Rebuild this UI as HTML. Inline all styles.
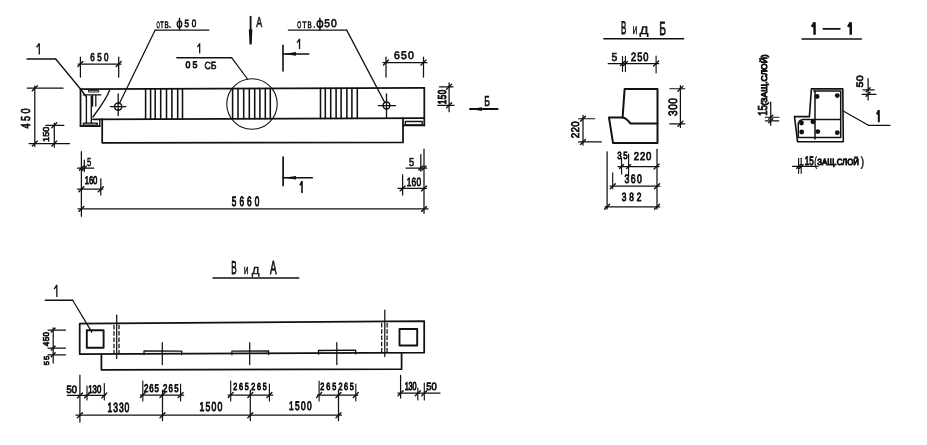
<!DOCTYPE html>
<html><head><meta charset="utf-8"><style>
html,body{margin:0;padding:0;background:#fff;width:927px;height:445px;overflow:hidden}
svg{display:block}
text{text-rendering:geometricPrecision;font-family:"Liberation Sans",sans-serif;fill:#111;stroke:#111;stroke-linejoin:miter}
</style></head><body>
<svg width="927" height="445" viewBox="0 0 927 445" stroke="#111" stroke-linecap="round" stroke-linejoin="round">
<rect x="0" y="0" width="927" height="445" fill="#fff" stroke="none"/>
<g opacity="0.999">
<line x1="80.5" y1="89.09826086956521" x2="424.3" y2="87.90243478260871" stroke-width="1.75"/>
<line x1="424.3" y1="87.90243478260871" x2="424.3" y2="125.4" stroke-width="1.75"/>
<line x1="403" y1="125.4" x2="424.3" y2="125.4" stroke-width="1.75"/>
<rect x="405.3" y="121.5" width="16.899999999999977" height="3.4000000000000057" stroke-width="1.35" fill="none"/>
<line x1="93" y1="119.25478260869565" x2="424.3" y2="118.1024347826087" stroke-width="1.75"/>
<polyline points="102.2,119.22278260869565 102.2,142.8 403,142.4 403,118.17652173913044" stroke-width="1.75" fill="none"/>
<line x1="80.5" y1="89.09826086956521" x2="80.5" y2="126" stroke-width="1.75"/>
<line x1="80.5" y1="126" x2="99.8" y2="126" stroke-width="1.75"/>
<line x1="99.8" y1="119.5" x2="99.8" y2="126" stroke-width="1.35"/>
<rect x="83.4" y="123.1" width="13.899999999999991" height="2.0" stroke-width="1.35" fill="none"/>
<line x1="86.4" y1="96" x2="86.4" y2="123" stroke-width="1.35"/>
<line x1="91.3" y1="96" x2="91.3" y2="123" stroke-width="1.35"/>
<line x1="92.6" y1="95" x2="92.6" y2="106" stroke-width="1.25"/>
<line x1="95.8" y1="95" x2="95.8" y2="106" stroke-width="1.25"/>
<line x1="83.4" y1="94.9" x2="100.8" y2="94.9" stroke-width="1.35"/>
<rect x="88.9" y="90.4" width="9.899999999999991" height="1.5999999999999943" stroke-width="0.95" fill="none"/>
<line x1="80.5" y1="89" x2="86.4" y2="96.9" stroke-width="1.35"/>
<path d="M109.8,89.8 Q106.5,99 92.9,117" stroke-width="1.35" fill="none"/>
<line x1="145.6" y1="88.87" x2="145.6" y2="119.07" stroke-width="1.55"/>
<line x1="150.6" y1="88.85" x2="150.6" y2="119.05" stroke-width="1.55"/>
<line x1="155.2" y1="88.84" x2="155.2" y2="119.04" stroke-width="1.55"/>
<line x1="160.7" y1="88.82" x2="160.7" y2="119.02" stroke-width="1.55"/>
<line x1="166.5" y1="88.8" x2="166.5" y2="119.0" stroke-width="1.55"/>
<line x1="171.9" y1="88.78" x2="171.9" y2="118.98" stroke-width="1.55"/>
<line x1="177.7" y1="88.76" x2="177.7" y2="118.96" stroke-width="1.55"/>
<line x1="182.5" y1="88.74" x2="182.5" y2="118.94" stroke-width="1.55"/>
<line x1="232.6" y1="88.57" x2="232.6" y2="118.77" stroke-width="1.55"/>
<line x1="238" y1="88.55" x2="238" y2="118.75" stroke-width="1.55"/>
<line x1="243.7" y1="88.53" x2="243.7" y2="118.73" stroke-width="1.55"/>
<line x1="249.3" y1="88.51" x2="249.3" y2="118.71" stroke-width="1.55"/>
<line x1="254.7" y1="88.49" x2="254.7" y2="118.69" stroke-width="1.55"/>
<line x1="259.9" y1="88.47" x2="259.9" y2="118.67" stroke-width="1.55"/>
<line x1="265.3" y1="88.46" x2="265.3" y2="118.66" stroke-width="1.55"/>
<line x1="270.3" y1="88.44" x2="270.3" y2="118.64" stroke-width="1.55"/>
<line x1="320.5" y1="88.26" x2="320.5" y2="118.46" stroke-width="1.55"/>
<line x1="325.3" y1="88.25" x2="325.3" y2="118.45" stroke-width="1.55"/>
<line x1="330.7" y1="88.23" x2="330.7" y2="118.43" stroke-width="1.55"/>
<line x1="336.1" y1="88.21" x2="336.1" y2="118.41" stroke-width="1.55"/>
<line x1="341.1" y1="88.19" x2="341.1" y2="118.39" stroke-width="1.55"/>
<line x1="346.9" y1="88.17" x2="346.9" y2="118.37" stroke-width="1.55"/>
<line x1="351.9" y1="88.15" x2="351.9" y2="118.35" stroke-width="1.55"/>
<line x1="357.3" y1="88.14" x2="357.3" y2="118.34" stroke-width="1.55"/>
<circle cx="252" cy="104" r="25.2" stroke-width="1.1" fill="none"/>
<circle cx="118.2" cy="106.6" r="3.6" stroke-width="1.5" fill="none"/>
<line x1="110.3" y1="106.6" x2="125.8" y2="106.6" stroke-width="1.25"/>
<line x1="118.2" y1="93.9" x2="118.2" y2="115.6" stroke-width="1.3"/>
<circle cx="386.5" cy="105.5" r="3.4" stroke-width="1.5" fill="none"/>
<line x1="378.4" y1="105.5" x2="395.6" y2="105.5" stroke-width="1.25"/>
<line x1="386.5" y1="94" x2="386.5" y2="118" stroke-width="1.3"/>
<line x1="27" y1="59" x2="55.7" y2="59" stroke-width="1.35"/>
<line x1="55.7" y1="59" x2="80.5" y2="89" stroke-width="1.35"/>
<path d="M39.25,43.20 L39.25,54.50 M39.25,43.50 L36.50,47.31" stroke-width="1.3" fill="none" stroke-linecap="butt"/>
<line x1="80.4" y1="57" x2="80.4" y2="77" stroke-width="1.25"/>
<line x1="118.7" y1="57" x2="118.7" y2="77" stroke-width="1.25"/>
<line x1="78" y1="64" x2="121" y2="64" stroke-width="1.25"/>
<line x1="77.9" y1="66.5" x2="82.9" y2="61.5" stroke-width="1.35"/>
<line x1="116.2" y1="66.5" x2="121.2" y2="61.5" stroke-width="1.35"/>
<g transform="translate(90.7,61.04)"><text transform="translate(-0.36,0) scale(0.705,1)" x="0" y="0" font-size="11.36" font-weight="normal" stroke-width="0.79">6</text><text transform="translate(6.51,0) scale(0.705,1)" x="0" y="0" font-size="11.36" font-weight="normal" stroke-width="0.79">5</text><text transform="translate(13.38,0) scale(0.705,1)" x="0" y="0" font-size="11.36" font-weight="normal" stroke-width="0.79">0</text></g>
<line x1="155.2" y1="30.1" x2="208.9" y2="30.1" stroke-width="1.35"/>
<line x1="155.2" y1="30.1" x2="119.5" y2="103.3" stroke-width="1.25"/>
<text x="156.6" y="27.8" font-size="9.31" textLength="3.30" lengthAdjust="spacingAndGlyphs" font-weight="normal" stroke-width="0.6">О</text>
<text x="160.2" y="27.8" font-size="9.31" textLength="3.60" lengthAdjust="spacingAndGlyphs" font-weight="normal" stroke-width="0.6">Т</text>
<text x="164.4" y="27.8" font-size="9.31" textLength="4.20" lengthAdjust="spacingAndGlyphs" font-weight="normal" stroke-width="0.6">В</text>
<circle cx="170" cy="27.1" r="0.85" stroke-width="0" fill="#111"/>
<ellipse cx="179.5" cy="24.2" rx="2.3" ry="3.0" stroke-width="1.3" fill="none"/>
<line x1="179.5" y1="18.4" x2="179.5" y2="29.5" stroke-width="1.45"/>
<g transform="translate(184.9,26.94)"><text transform="translate(-0.36,0) scale(0.766,1)" x="0" y="0" font-size="10.53" font-weight="normal" stroke-width="0.75">5</text><text transform="translate(6.95,0) scale(0.766,1)" x="0" y="0" font-size="10.53" font-weight="normal" stroke-width="0.75">0</text></g>
<line x1="250.6" y1="16.7" x2="250.6" y2="43.7" stroke-width="1.9"/>
<polygon points="248.8,29.5 252.4,29.5 251.5,44 249.7,44" fill="#111" stroke="none"/>
<text x="256.2" y="26.6" font-size="14.31" textLength="5.90" lengthAdjust="spacingAndGlyphs" font-weight="normal" stroke-width="0.6">А</text>
<line x1="176.8" y1="57.7" x2="231.6" y2="57.7" stroke-width="1.35"/>
<line x1="231.6" y1="57.7" x2="247.5" y2="79" stroke-width="1.25"/>
<path d="M199.68,43.30 L199.68,53.60 M199.68,43.60 L197.50,47.03" stroke-width="1.25" fill="none" stroke-linecap="butt"/>
<g transform="translate(185.9,68.38)"><text transform="translate(-0.39,0) scale(0.919,1)" x="0" y="0" font-size="9.53" font-weight="normal" stroke-width="0.84">0</text><text transform="translate(6.49,0) scale(0.919,1)" x="0" y="0" font-size="9.53" font-weight="normal" stroke-width="0.84">5</text></g>
<text x="204.5" y="68.7" font-size="10.42" textLength="12.00" lengthAdjust="spacingAndGlyphs" font-weight="normal" stroke-width="0.6">СБ</text>
<line x1="283" y1="45.3" x2="283" y2="71" stroke-width="1.6"/>
<line x1="283" y1="53.9" x2="308.7" y2="53.9" stroke-width="1.5"/>
<polygon points="283.5,53.9 296.0,52.1 296.0,55.699999999999996" fill="#111" stroke="none"/>
<path d="M299.52,38.80 L299.52,49.10 M299.52,39.10 L297.10,42.53" stroke-width="1.35" fill="none" stroke-linecap="butt"/>
<line x1="288.4" y1="30.1" x2="346.7" y2="30.1" stroke-width="1.35"/>
<line x1="346.7" y1="30.1" x2="384.8" y2="102.6" stroke-width="1.25"/>
<text x="297.2" y="27.7" font-size="9.44" textLength="4.00" lengthAdjust="spacingAndGlyphs" font-weight="normal" stroke-width="0.6">О</text>
<text x="302.2" y="27.7" font-size="9.44" textLength="4.40" lengthAdjust="spacingAndGlyphs" font-weight="normal" stroke-width="0.6">Т</text>
<text x="307.4" y="27.7" font-size="9.44" textLength="4.20" lengthAdjust="spacingAndGlyphs" font-weight="normal" stroke-width="0.6">В</text>
<circle cx="314.3" cy="27" r="0.85" stroke-width="0" fill="#111"/>
<ellipse cx="319.9" cy="24" rx="2.8" ry="3.2" stroke-width="1.4" fill="none"/>
<line x1="319.9" y1="18.1" x2="319.9" y2="30.3" stroke-width="1.45"/>
<g transform="translate(324.6,26.94)"><text transform="translate(-0.46,0) scale(0.919,1)" x="0" y="0" font-size="11.22" font-weight="normal" stroke-width="0.68">5</text><text transform="translate(6.39,0) scale(0.919,1)" x="0" y="0" font-size="11.22" font-weight="normal" stroke-width="0.68">0</text></g>
<line x1="386" y1="57" x2="386" y2="77" stroke-width="1.25"/>
<line x1="423.5" y1="57" x2="423.5" y2="77" stroke-width="1.25"/>
<line x1="383" y1="62.6" x2="427" y2="62.6" stroke-width="1.25"/>
<line x1="383.5" y1="65.1" x2="388.5" y2="60.1" stroke-width="1.35"/>
<line x1="421.0" y1="65.1" x2="426.0" y2="60.1" stroke-width="1.35"/>
<g transform="translate(394.4,59.24)"><text transform="translate(-0.47,0) scale(0.950,1)" x="0" y="0" font-size="11.08" font-weight="normal" stroke-width="0.67">6</text><text transform="translate(6.50,0) scale(0.950,1)" x="0" y="0" font-size="11.08" font-weight="normal" stroke-width="0.67">5</text><text transform="translate(13.48,0) scale(0.950,1)" x="0" y="0" font-size="11.08" font-weight="normal" stroke-width="0.67">0</text></g>
<line x1="449.1" y1="82.9" x2="449.1" y2="111.7" stroke-width="1.25"/>
<line x1="439.4" y1="86.8" x2="453" y2="86.8" stroke-width="1.15"/>
<line x1="437.6" y1="105.3" x2="454.1" y2="105.3" stroke-width="1.15"/>
<line x1="446.6" y1="89.3" x2="451.6" y2="84.3" stroke-width="1.35"/>
<line x1="446.6" y1="107.8" x2="451.6" y2="102.8" stroke-width="1.35"/>
<g transform="translate(445.84,104) rotate(-90)"><text transform="translate(-0.36,0) scale(0.705,1)" x="0" y="0" font-size="11.50" font-weight="normal" stroke-width="1.09">1</text><text transform="translate(4.73,0) scale(0.705,1)" x="0" y="0" font-size="11.50" font-weight="normal" stroke-width="1.09">5</text><text transform="translate(9.83,0) scale(0.705,1)" x="0" y="0" font-size="11.50" font-weight="normal" stroke-width="1.09">0</text></g>
<line x1="470" y1="109.1" x2="497.6" y2="109.1" stroke-width="2.0"/>
<polygon points="470,109.1 482,107.19999999999999 482,111.0" fill="#111" stroke="none"/>
<text x="484.2" y="105.7" font-size="14.44" textLength="5.70" lengthAdjust="spacingAndGlyphs" font-weight="normal" stroke-width="0.7">Б</text>
<line x1="34.8" y1="86.2" x2="34.8" y2="146.4" stroke-width="1.25"/>
<line x1="27.3" y1="88.2" x2="63" y2="88.2" stroke-width="1.25"/>
<line x1="29" y1="143.6" x2="69.5" y2="143.6" stroke-width="1.25"/>
<line x1="32.3" y1="90.7" x2="37.3" y2="85.7" stroke-width="1.35"/>
<line x1="32.3" y1="146.1" x2="37.3" y2="141.1" stroke-width="1.35"/>
<g transform="translate(30.34,128.1) rotate(-90)"><text transform="translate(-0.41,0) scale(0.705,1)" x="0" y="0" font-size="12.89" font-weight="normal" stroke-width="0.79">4</text><text transform="translate(7.11,0) scale(0.705,1)" x="0" y="0" font-size="12.89" font-weight="normal" stroke-width="0.79">5</text><text transform="translate(14.62,0) scale(0.705,1)" x="0" y="0" font-size="12.89" font-weight="normal" stroke-width="0.79">0</text></g>
<line x1="54.3" y1="123" x2="54.3" y2="147.2" stroke-width="1.25"/>
<line x1="45.9" y1="125.3" x2="63.9" y2="125.3" stroke-width="1.25"/>
<line x1="51.8" y1="127.8" x2="56.8" y2="122.8" stroke-width="1.35"/>
<line x1="51.8" y1="146.1" x2="56.8" y2="141.1" stroke-width="1.35"/>
<g transform="translate(48.74,141.5) rotate(-90)"><text transform="translate(-0.41,0) scale(1.072,1)" x="0" y="0" font-size="8.58" font-weight="normal" stroke-width="0.63">1</text><text transform="translate(4.67,0) scale(1.072,1)" x="0" y="0" font-size="8.58" font-weight="normal" stroke-width="0.63">5</text><text transform="translate(9.76,0) scale(1.072,1)" x="0" y="0" font-size="8.58" font-weight="normal" stroke-width="0.63">0</text></g>
<line x1="81.4" y1="151.7" x2="81.4" y2="216.3" stroke-width="1.25"/>
<line x1="84.3" y1="160" x2="84.3" y2="171.7" stroke-width="1.25"/>
<line x1="77.5" y1="168.2" x2="93.7" y2="168.2" stroke-width="1.25"/>
<line x1="79.4" y1="170.2" x2="83.4" y2="166.2" stroke-width="1.35"/>
<line x1="82.3" y1="170.2" x2="86.3" y2="166.2" stroke-width="1.35"/>
<text x="87.1" y="166" font-size="11.67" textLength="4.30" lengthAdjust="spacingAndGlyphs" font-weight="normal" stroke-width="0.6">5</text>
<line x1="77.5" y1="189.2" x2="102.8" y2="189.2" stroke-width="1.25"/>
<line x1="100.8" y1="178.8" x2="100.8" y2="195" stroke-width="1.25"/>
<line x1="78.9" y1="191.7" x2="83.9" y2="186.7" stroke-width="1.35"/>
<line x1="98.3" y1="191.7" x2="103.3" y2="186.7" stroke-width="1.35"/>
<g transform="translate(85.1,184.12)"><text transform="translate(-0.35,0) scale(0.695,1)" x="0" y="0" font-size="11.17" font-weight="normal" stroke-width="0.85">1</text><text transform="translate(3.78,0) scale(0.695,1)" x="0" y="0" font-size="11.17" font-weight="normal" stroke-width="0.85">6</text><text transform="translate(7.90,0) scale(0.695,1)" x="0" y="0" font-size="11.17" font-weight="normal" stroke-width="0.85">0</text></g>
<line x1="78" y1="208.9" x2="428" y2="208.9" stroke-width="1.25"/>
<line x1="78.9" y1="211.4" x2="83.9" y2="206.4" stroke-width="1.35"/>
<line x1="421.5" y1="211.4" x2="426.5" y2="206.4" stroke-width="1.35"/>
<g transform="translate(232.2,206.30)"><text transform="translate(-0.37,0) scale(0.613,1)" x="0" y="0" font-size="13.47" font-weight="normal" stroke-width="0.99">5</text><text transform="translate(7.24,0) scale(0.613,1)" x="0" y="0" font-size="13.47" font-weight="normal" stroke-width="0.99">6</text><text transform="translate(14.84,0) scale(0.613,1)" x="0" y="0" font-size="13.47" font-weight="normal" stroke-width="0.99">6</text><text transform="translate(22.45,0) scale(0.613,1)" x="0" y="0" font-size="13.47" font-weight="normal" stroke-width="0.99">0</text></g>
<line x1="424" y1="149" x2="424" y2="213.3" stroke-width="1.25"/>
<line x1="420.8" y1="154.5" x2="420.8" y2="171.2" stroke-width="1.25"/>
<line x1="406.1" y1="168" x2="426.8" y2="168" stroke-width="1.25"/>
<line x1="418.8" y1="170" x2="422.8" y2="166" stroke-width="1.35"/>
<line x1="422" y1="170" x2="426" y2="166" stroke-width="1.35"/>
<text x="409.1" y="166" font-size="11.67" textLength="5.10" lengthAdjust="spacingAndGlyphs" font-weight="normal" stroke-width="0.6">5</text>
<line x1="398" y1="188.4" x2="426.3" y2="188.4" stroke-width="1.25"/>
<line x1="402.6" y1="174.8" x2="402.6" y2="195" stroke-width="1.25"/>
<line x1="400.1" y1="190.9" x2="405.1" y2="185.9" stroke-width="1.35"/>
<line x1="421.5" y1="190.9" x2="426.5" y2="185.9" stroke-width="1.35"/>
<g transform="translate(407.1,185.62)"><text transform="translate(-0.38,0) scale(0.705,1)" x="0" y="0" font-size="11.86" font-weight="normal" stroke-width="0.85">1</text><text transform="translate(4.51,0) scale(0.705,1)" x="0" y="0" font-size="11.86" font-weight="normal" stroke-width="0.85">6</text><text transform="translate(9.40,0) scale(0.705,1)" x="0" y="0" font-size="11.86" font-weight="normal" stroke-width="0.85">0</text></g>
<line x1="283.1" y1="157" x2="283.1" y2="185.4" stroke-width="1.7"/>
<line x1="283.1" y1="177.8" x2="312.4" y2="177.8" stroke-width="1.5"/>
<polygon points="283.5,177.8 296.0,176.0 296.0,179.60000000000002" fill="#111" stroke="none"/>
<path d="M302.00,181.10 L302.00,193.00 M302.00,181.40 L299.90,185.44" stroke-width="1.6" fill="none" stroke-linecap="butt"/>
<text x="620.9" y="34.4" font-size="18.19" textLength="5.30" lengthAdjust="spacingAndGlyphs" font-weight="normal" stroke-width="0.8">В</text>
<text x="632.5" y="34.4" font-size="14.53" textLength="4.90" lengthAdjust="spacingAndGlyphs" font-weight="normal" stroke-width="0.4">и</text>
<text x="639.5" y="34.4" font-size="14.53" textLength="9.00" lengthAdjust="spacingAndGlyphs" font-weight="normal" stroke-width="0.35">д</text>
<text x="659.2" y="35" font-size="19.03" textLength="6.80" lengthAdjust="spacingAndGlyphs" font-weight="normal" stroke-width="0.8">Б</text>
<line x1="603.8" y1="38.8" x2="683.6" y2="38.8" stroke-width="1.55"/>
<line x1="608.2" y1="63.5" x2="658.7" y2="63.5" stroke-width="1.25"/>
<line x1="622.5" y1="56.4" x2="622.5" y2="71.6" stroke-width="1.15"/>
<line x1="625.4" y1="56.4" x2="625.4" y2="71.6" stroke-width="1.15"/>
<line x1="656.1" y1="56" x2="656.1" y2="73" stroke-width="1.15"/>
<line x1="620.5" y1="65.5" x2="624.5" y2="61.5" stroke-width="1.35"/>
<line x1="623.4" y1="65.5" x2="627.4" y2="61.5" stroke-width="1.35"/>
<line x1="653.6" y1="66.0" x2="658.6" y2="61.0" stroke-width="1.35"/>
<text x="611.5" y="60.6" font-size="11.67" textLength="5.80" lengthAdjust="spacingAndGlyphs" font-weight="normal" stroke-width="0.6">5</text>
<g transform="translate(631.5,60.60)"><text transform="translate(-0.42,0) scale(0.766,1)" x="0" y="0" font-size="12.08" font-weight="normal" stroke-width="0.86">2</text><text transform="translate(5.66,0) scale(0.766,1)" x="0" y="0" font-size="12.08" font-weight="normal" stroke-width="0.86">5</text><text transform="translate(11.73,0) scale(0.766,1)" x="0" y="0" font-size="12.08" font-weight="normal" stroke-width="0.86">0</text></g>
<polyline points="624.6,89.1 657.5,89.1 657.5,142.9 613,142.9 609,117.6 622.6,117.6 624.6,89.1" stroke-width="2.0" fill="none"/>
<path d="M622.6,117.6 Q626,118 630.5,123.5 L657.5,123.5" stroke-width="2.0" fill="none"/>
<line x1="680.4" y1="85.6" x2="680.4" y2="127.4" stroke-width="1.25"/>
<line x1="669.8" y1="88.7" x2="684.8" y2="88.7" stroke-width="1.15"/>
<line x1="669.8" y1="123.8" x2="684.8" y2="123.8" stroke-width="1.15"/>
<line x1="677.9" y1="91.2" x2="682.9" y2="86.2" stroke-width="1.35"/>
<line x1="677.9" y1="126.3" x2="682.9" y2="121.3" stroke-width="1.35"/>
<g transform="translate(677.20,115.5) rotate(-90)"><text transform="translate(-0.46,0) scale(0.843,1)" x="0" y="0" font-size="12.08" font-weight="normal" stroke-width="0.82">3</text><text transform="translate(5.65,0) scale(0.843,1)" x="0" y="0" font-size="12.08" font-weight="normal" stroke-width="0.82">0</text><text transform="translate(11.76,0) scale(0.843,1)" x="0" y="0" font-size="12.08" font-weight="normal" stroke-width="0.82">0</text></g>
<line x1="583" y1="115.4" x2="583" y2="145" stroke-width="1.25"/>
<line x1="578.5" y1="118.7" x2="594.7" y2="118.7" stroke-width="1.15"/>
<line x1="578.5" y1="141.9" x2="601.4" y2="141.9" stroke-width="1.15"/>
<line x1="580.5" y1="121.2" x2="585.5" y2="116.2" stroke-width="1.35"/>
<line x1="580.5" y1="144.4" x2="585.5" y2="139.4" stroke-width="1.35"/>
<g transform="translate(579.10,137.9) rotate(-90)"><text transform="translate(-0.44,0) scale(0.889,1)" x="0" y="0" font-size="11.11" font-weight="normal" stroke-width="0.80">2</text><text transform="translate(5.34,0) scale(0.889,1)" x="0" y="0" font-size="11.11" font-weight="normal" stroke-width="0.80">2</text><text transform="translate(11.12,0) scale(0.889,1)" x="0" y="0" font-size="11.11" font-weight="normal" stroke-width="0.80">0</text></g>
<line x1="607.1" y1="151.8" x2="607.1" y2="209" stroke-width="1.25"/>
<line x1="657" y1="149.3" x2="657" y2="209" stroke-width="1.25"/>
<line x1="618.1" y1="166.6" x2="659" y2="166.6" stroke-width="1.25"/>
<line x1="621.5" y1="158" x2="621.6" y2="174" stroke-width="1.15"/>
<line x1="628.6" y1="154" x2="628.6" y2="176" stroke-width="1.15"/>
<line x1="619.5" y1="168.6" x2="623.5" y2="164.6" stroke-width="1.35"/>
<line x1="626.6" y1="168.6" x2="630.6" y2="164.6" stroke-width="1.35"/>
<line x1="654.1" y1="169.1" x2="659.1" y2="164.1" stroke-width="1.35"/>
<g transform="translate(617.5,159.20)"><text transform="translate(-0.36,0) scale(0.766,1)" x="0" y="0" font-size="10.42" font-weight="normal" stroke-width="0.86">3</text><text transform="translate(5.69,0) scale(0.766,1)" x="0" y="0" font-size="10.42" font-weight="normal" stroke-width="0.86">5</text></g>
<g transform="translate(634.3,160.20)"><text transform="translate(-0.43,0) scale(0.843,1)" x="0" y="0" font-size="11.39" font-weight="normal" stroke-width="0.82">2</text><text transform="translate(5.61,0) scale(0.843,1)" x="0" y="0" font-size="11.39" font-weight="normal" stroke-width="0.82">2</text><text transform="translate(11.66,0) scale(0.843,1)" x="0" y="0" font-size="11.39" font-weight="normal" stroke-width="0.82">0</text></g>
<line x1="610.2" y1="186.2" x2="659.8" y2="186.2" stroke-width="1.25"/>
<line x1="612.7" y1="172.8" x2="612.7" y2="188.8" stroke-width="1.15"/>
<line x1="610.2" y1="188.7" x2="615.2" y2="183.7" stroke-width="1.35"/>
<line x1="654.5" y1="188.7" x2="659.5" y2="183.7" stroke-width="1.35"/>
<g transform="translate(624.8,182.70)"><text transform="translate(-0.39,0) scale(0.705,1)" x="0" y="0" font-size="12.36" font-weight="normal" stroke-width="0.91">3</text><text transform="translate(5.86,0) scale(0.705,1)" x="0" y="0" font-size="12.36" font-weight="normal" stroke-width="0.91">6</text><text transform="translate(12.11,0) scale(0.705,1)" x="0" y="0" font-size="12.36" font-weight="normal" stroke-width="0.91">0</text></g>
<line x1="605" y1="206.8" x2="659.8" y2="206.8" stroke-width="1.25"/>
<line x1="604.6" y1="209.3" x2="609.6" y2="204.3" stroke-width="1.35"/>
<line x1="654.5" y1="209.3" x2="659.5" y2="204.3" stroke-width="1.35"/>
<g transform="translate(622.1,201.20)"><text transform="translate(-0.37,0) scale(0.705,1)" x="0" y="0" font-size="11.81" font-weight="normal" stroke-width="0.91">3</text><text transform="translate(7.12,0) scale(0.705,1)" x="0" y="0" font-size="11.81" font-weight="normal" stroke-width="0.91">8</text><text transform="translate(14.62,0) scale(0.705,1)" x="0" y="0" font-size="11.81" font-weight="normal" stroke-width="0.91">2</text></g>
<path d="M814.55,22.20 L814.55,34.80 M814.55,22.50 L811.80,26.80" stroke-width="2.5" fill="none" stroke-linecap="butt"/>
<line x1="823.2" y1="28.9" x2="839.9" y2="28.9" stroke-width="1.6"/>
<path d="M850.75,22.20 L850.75,34.80 M850.75,22.50 L848.10,26.80" stroke-width="2.5" fill="none" stroke-linecap="butt"/>
<line x1="802.1" y1="38.9" x2="861.4" y2="38.9" stroke-width="1.55"/>
<polyline points="811.4,88.9 842.8,88.9 843.3,141.8 797.6,141.8 794.5,116.6 809.4,116.6 811.4,88.9" stroke-width="1.6" fill="none"/>
<polyline points="813.8,91 840.7,91 840.7,137.6 798.3,137.6 798.3,123 800,120.5 803,119.5 840.7,119.5" stroke-width="1.5" fill="none"/>
<line x1="815" y1="91" x2="815" y2="139" stroke-width="1.5"/>
<circle cx="817.1" cy="96.5" r="2.4" stroke-width="0" fill="#111"/>
<circle cx="837.3" cy="95.6" r="2.4" stroke-width="0" fill="#111"/>
<circle cx="801.5" cy="123" r="2.4" stroke-width="0" fill="#111"/>
<circle cx="812.9" cy="121.8" r="2.4" stroke-width="0" fill="#111"/>
<circle cx="801.7" cy="132" r="2.4" stroke-width="0" fill="#111"/>
<circle cx="817.8" cy="131.6" r="2.4" stroke-width="0" fill="#111"/>
<circle cx="837.3" cy="132.7" r="2.4" stroke-width="0" fill="#111"/>
<line x1="842.8" y1="110.8" x2="868.4" y2="125.3" stroke-width="1.25"/>
<line x1="868.4" y1="125.3" x2="890" y2="125.3" stroke-width="1.25"/>
<path d="M878.80,109.90 L878.80,122.20 M878.80,110.20 L876.90,114.39" stroke-width="2.0" fill="none" stroke-linecap="butt"/>
<line x1="868.1" y1="78.5" x2="868.1" y2="99.9" stroke-width="1.25"/>
<line x1="863" y1="89.8" x2="874.3" y2="89.8" stroke-width="1.15"/>
<line x1="862" y1="94.3" x2="876" y2="94.3" stroke-width="1.15"/>
<line x1="866.1" y1="91.8" x2="870.1" y2="87.8" stroke-width="1.35"/>
<line x1="866.1" y1="96.3" x2="870.1" y2="92.3" stroke-width="1.35"/>
<g transform="translate(863.30,87) rotate(-90)"><text transform="translate(-0.48,0) scale(1.149,1)" x="0" y="0" font-size="9.31" font-weight="normal" stroke-width="0.70">5</text><text transform="translate(5.79,0) scale(1.149,1)" x="0" y="0" font-size="9.31" font-weight="normal" stroke-width="0.70">0</text></g>
<line x1="770.7" y1="102" x2="770.7" y2="125.3" stroke-width="1.25"/>
<line x1="765.3" y1="117.2" x2="778.8" y2="117.2" stroke-width="1.15"/>
<line x1="765.3" y1="120.8" x2="778.8" y2="120.8" stroke-width="1.15"/>
<line x1="768.7" y1="119.2" x2="772.7" y2="115.2" stroke-width="1.35"/>
<line x1="768.7" y1="122.8" x2="772.7" y2="118.8" stroke-width="1.35"/>
<g transform="translate(766.80,115.4) rotate(-90)"><text transform="translate(-0.44,0) scale(0.750,1)" x="0" y="0" font-size="12.92" font-weight="normal" stroke-width="0.87">1</text><text transform="translate(4.91,0) scale(0.750,1)" x="0" y="0" font-size="12.92" font-weight="normal" stroke-width="0.87">5</text></g>
<text transform="translate(767.1,105.5) rotate(-90)" x="0" y="0" font-size="8.19" textLength="51.20" lengthAdjust="spacingAndGlyphs" font-weight="normal" stroke-width="1.0">(ЗАЩ.СЛОЙ)</text>
<line x1="792.6" y1="166.4" x2="818" y2="166.4" stroke-width="1.25"/>
<line x1="798.6" y1="158.2" x2="798.6" y2="173.3" stroke-width="1.15"/>
<line x1="801.2" y1="158.2" x2="801.2" y2="173.3" stroke-width="1.15"/>
<line x1="796.6" y1="168.4" x2="800.6" y2="164.4" stroke-width="1.35"/>
<line x1="799.2" y1="168.4" x2="803.2" y2="164.4" stroke-width="1.35"/>
<g transform="translate(805.1,165.20)"><text transform="translate(-0.36,0) scale(0.649,1)" x="0" y="0" font-size="12.36" font-weight="normal" stroke-width="0.95">1</text><text transform="translate(4.07,0) scale(0.649,1)" x="0" y="0" font-size="12.36" font-weight="normal" stroke-width="0.95">5</text></g>
<text x="814.2" y="165.5" font-size="13.19" textLength="2.70" lengthAdjust="spacingAndGlyphs" font-weight="normal" stroke-width="0.5">(</text>
<text x="817.2" y="165.1" font-size="9.03" textLength="41.80" lengthAdjust="spacingAndGlyphs" font-weight="normal" stroke-width="1.0">ЗАЩ.СЛОЙ</text>
<text x="860.8" y="165.5" font-size="13.19" textLength="3.40" lengthAdjust="spacingAndGlyphs" font-weight="normal" stroke-width="0.5">)</text>
<text x="231.3" y="273.6" font-size="18.75" textLength="5.40" lengthAdjust="spacingAndGlyphs" font-weight="normal" stroke-width="0.8">В</text>
<text x="243.7" y="273.6" font-size="13.21" textLength="4.80" lengthAdjust="spacingAndGlyphs" font-weight="normal" stroke-width="0.4">и</text>
<text x="251.8" y="273.6" font-size="13.21" textLength="7.70" lengthAdjust="spacingAndGlyphs" font-weight="normal" stroke-width="0.35">д</text>
<text x="270" y="273.6" font-size="18.89" textLength="6.60" lengthAdjust="spacingAndGlyphs" font-weight="normal" stroke-width="0.8">А</text>
<line x1="213" y1="277.9" x2="298.7" y2="277.9" stroke-width="1.55"/>
<polygon points="79.7,323.6 424.2,321.1 424.2,352.7 79.7,354.1000000000001" stroke-width="1.75" fill="none"/>
<polyline points="101.4,354.29328558461873 101.4,369.8 401.6,369.1 401.6,353.0841712200363" stroke-width="1.75" fill="none"/>
<polygon points="86.8,330.2 103.6,330.2 103.6,347.8 86.8,347.8" stroke-width="1.9" fill="none"/>
<polygon points="399.5,329 417.2,329 417.2,345.5 399.5,345.5" stroke-width="1.9" fill="none"/>
<line x1="114" y1="324.9" x2="114" y2="353.9" stroke-width="1.25" stroke-dasharray="4.5,1.8" stroke-linecap="butt"/>
<line x1="119" y1="324.8" x2="119" y2="353.9" stroke-width="1.25" stroke-dasharray="4.5,1.8" stroke-linecap="butt"/>
<line x1="381.7" y1="322.9" x2="381.7" y2="352.9" stroke-width="1.25" stroke-dasharray="4.5,1.8" stroke-linecap="butt"/>
<line x1="387.1" y1="322.9" x2="387.1" y2="352.8" stroke-width="1.25" stroke-dasharray="4.5,1.8" stroke-linecap="butt"/>
<line x1="116.7" y1="315.2" x2="116.7" y2="358.5" stroke-width="1.25"/>
<line x1="384.8" y1="310" x2="384.8" y2="356.5" stroke-width="1.25"/>
<polyline points="144,354.5626629039186 144,350.96266290391856 181.7,351.0794095036292 181.7,354.67940950362924" stroke-width="1.35" fill="none"/>
<line x1="162.3" y1="342.7" x2="162.3" y2="364.5" stroke-width="1.25"/>
<polyline points="231.9,354.6575550592137 231.9,351.05755505921366 268.6,350.91342539124156 268.6,354.5134253912416" stroke-width="1.35" fill="none"/>
<line x1="249.7" y1="342.7" x2="249.7" y2="364.5" stroke-width="1.25"/>
<polyline points="318.5,354.1438123258227 318.5,350.54381232582267 355.7,350.138071797694 355.7,353.73807179769403" stroke-width="1.35" fill="none"/>
<line x1="336.8" y1="342.7" x2="336.8" y2="364.5" stroke-width="1.25"/>
<line x1="45.3" y1="300.2" x2="72.7" y2="300.2" stroke-width="1.35"/>
<line x1="72.7" y1="300.2" x2="91.8" y2="332.1" stroke-width="1.25"/>
<path d="M56.85,284.80 L56.85,296.90 M56.85,285.10 L54.10,289.21" stroke-width="1.3" fill="none" stroke-linecap="butt"/>
<line x1="53.2" y1="327.9" x2="53.2" y2="363" stroke-width="1.25"/>
<line x1="48" y1="330.1" x2="65.5" y2="330.1" stroke-width="1.15"/>
<line x1="51.2" y1="332.1" x2="55.2" y2="328.1" stroke-width="1.35"/>
<line x1="48" y1="348.1" x2="65.5" y2="348.1" stroke-width="1.15"/>
<line x1="51.2" y1="350.1" x2="55.2" y2="346.1" stroke-width="1.35"/>
<line x1="48" y1="354.8" x2="65.5" y2="354.8" stroke-width="1.15"/>
<line x1="51.2" y1="356.8" x2="55.2" y2="352.8" stroke-width="1.35"/>
<g transform="translate(48.90,345.8) rotate(-90)"><text transform="translate(-0.36,0) scale(0.950,1)" x="0" y="0" font-size="8.47" font-weight="normal" stroke-width="0.77">4</text><text transform="translate(4.45,0) scale(0.950,1)" x="0" y="0" font-size="8.47" font-weight="normal" stroke-width="0.77">5</text><text transform="translate(9.26,0) scale(0.950,1)" x="0" y="0" font-size="8.47" font-weight="normal" stroke-width="0.77">0</text></g>
<g transform="translate(48.90,365) rotate(-90)"><text transform="translate(-0.35,0) scale(1.072,1)" x="0" y="0" font-size="7.22" font-weight="normal" stroke-width="0.72">5</text><text transform="translate(5.01,0) scale(1.072,1)" x="0" y="0" font-size="7.22" font-weight="normal" stroke-width="0.72">5</text></g>
<line x1="79.9" y1="375" x2="79.9" y2="422.1" stroke-width="1.25"/>
<line x1="87" y1="386" x2="87" y2="400" stroke-width="1.15"/>
<line x1="104.3" y1="383.6" x2="104.3" y2="400" stroke-width="1.15"/>
<line x1="67.3" y1="395.4" x2="105" y2="395.4" stroke-width="1.25"/>
<line x1="77.4" y1="397.9" x2="82.4" y2="392.9" stroke-width="1.35"/>
<line x1="84.5" y1="397.9" x2="89.5" y2="392.9" stroke-width="1.35"/>
<line x1="101.8" y1="397.9" x2="106.8" y2="392.9" stroke-width="1.35"/>
<g transform="translate(67,392.70)"><text transform="translate(-0.42,0) scale(0.889,1)" x="0" y="0" font-size="10.56" font-weight="normal" stroke-width="0.80">5</text><text transform="translate(4.87,0) scale(0.889,1)" x="0" y="0" font-size="10.56" font-weight="normal" stroke-width="0.80">0</text></g>
<g transform="translate(88.5,392.70)"><text transform="translate(-0.35,0) scale(0.705,1)" x="0" y="0" font-size="11.11" font-weight="normal" stroke-width="0.91">1</text><text transform="translate(4.06,0) scale(0.705,1)" x="0" y="0" font-size="11.11" font-weight="normal" stroke-width="0.91">3</text><text transform="translate(8.47,0) scale(0.705,1)" x="0" y="0" font-size="11.11" font-weight="normal" stroke-width="0.91">0</text></g>
<line x1="140.5" y1="395" x2="183.7" y2="395" stroke-width="1.25"/>
<line x1="142.8" y1="381" x2="142.8" y2="401" stroke-width="1.15"/>
<line x1="180.6" y1="384" x2="180.6" y2="401" stroke-width="1.15"/>
<line x1="162.5" y1="390" x2="162.5" y2="420.5" stroke-width="1.25"/>
<line x1="140.3" y1="397.5" x2="145.3" y2="392.5" stroke-width="1.35"/>
<line x1="160.0" y1="397.5" x2="165.0" y2="392.5" stroke-width="1.35"/>
<line x1="178.1" y1="397.5" x2="183.1" y2="392.5" stroke-width="1.35"/>
<line x1="228" y1="395" x2="272.8" y2="395" stroke-width="1.25"/>
<line x1="230.7" y1="381" x2="230.7" y2="401" stroke-width="1.15"/>
<line x1="269.4" y1="384" x2="269.4" y2="401" stroke-width="1.15"/>
<line x1="250.3" y1="390" x2="250.3" y2="420.5" stroke-width="1.25"/>
<line x1="228.2" y1="397.5" x2="233.2" y2="392.5" stroke-width="1.35"/>
<line x1="247.8" y1="397.5" x2="252.8" y2="392.5" stroke-width="1.35"/>
<line x1="266.9" y1="397.5" x2="271.9" y2="392.5" stroke-width="1.35"/>
<line x1="317.5" y1="395" x2="357.9" y2="395" stroke-width="1.25"/>
<line x1="319.1" y1="381" x2="319.1" y2="401" stroke-width="1.15"/>
<line x1="355.8" y1="384" x2="355.8" y2="401" stroke-width="1.15"/>
<line x1="338.5" y1="390" x2="338.5" y2="420.5" stroke-width="1.25"/>
<line x1="316.6" y1="397.5" x2="321.6" y2="392.5" stroke-width="1.35"/>
<line x1="336.0" y1="397.5" x2="341.0" y2="392.5" stroke-width="1.35"/>
<line x1="353.3" y1="397.5" x2="358.3" y2="392.5" stroke-width="1.35"/>
<g transform="translate(144.4,391.90)"><text transform="translate(-0.35,0) scale(0.705,1)" x="0" y="0" font-size="11.11" font-weight="normal" stroke-width="0.91">2</text><text transform="translate(4.86,0) scale(0.705,1)" x="0" y="0" font-size="11.11" font-weight="normal" stroke-width="0.91">6</text><text transform="translate(10.07,0) scale(0.705,1)" x="0" y="0" font-size="11.11" font-weight="normal" stroke-width="0.91">5</text></g>
<g transform="translate(163.3,391.90)"><text transform="translate(-0.35,0) scale(0.705,1)" x="0" y="0" font-size="11.11" font-weight="normal" stroke-width="0.91">2</text><text transform="translate(5.26,0) scale(0.705,1)" x="0" y="0" font-size="11.11" font-weight="normal" stroke-width="0.91">6</text><text transform="translate(10.87,0) scale(0.705,1)" x="0" y="0" font-size="11.11" font-weight="normal" stroke-width="0.91">5</text></g>
<g transform="translate(233.5,390.40)"><text transform="translate(-0.32,0) scale(0.705,1)" x="0" y="0" font-size="10.14" font-weight="normal" stroke-width="0.91">2</text><text transform="translate(5.45,0) scale(0.705,1)" x="0" y="0" font-size="10.14" font-weight="normal" stroke-width="0.91">6</text><text transform="translate(11.22,0) scale(0.705,1)" x="0" y="0" font-size="10.14" font-weight="normal" stroke-width="0.91">5</text></g>
<g transform="translate(251.6,390.40)"><text transform="translate(-0.32,0) scale(0.705,1)" x="0" y="0" font-size="10.14" font-weight="normal" stroke-width="0.91">2</text><text transform="translate(5.45,0) scale(0.705,1)" x="0" y="0" font-size="10.14" font-weight="normal" stroke-width="0.91">6</text><text transform="translate(11.22,0) scale(0.705,1)" x="0" y="0" font-size="10.14" font-weight="normal" stroke-width="0.91">5</text></g>
<g transform="translate(320.7,390.40)"><text transform="translate(-0.33,0) scale(0.705,1)" x="0" y="0" font-size="10.28" font-weight="normal" stroke-width="0.91">2</text><text transform="translate(5.57,0) scale(0.705,1)" x="0" y="0" font-size="10.28" font-weight="normal" stroke-width="0.91">6</text><text transform="translate(11.47,0) scale(0.705,1)" x="0" y="0" font-size="10.28" font-weight="normal" stroke-width="0.91">5</text></g>
<g transform="translate(338.8,390.40)"><text transform="translate(-0.33,0) scale(0.705,1)" x="0" y="0" font-size="10.28" font-weight="normal" stroke-width="0.91">2</text><text transform="translate(5.27,0) scale(0.705,1)" x="0" y="0" font-size="10.28" font-weight="normal" stroke-width="0.91">6</text><text transform="translate(10.87,0) scale(0.705,1)" x="0" y="0" font-size="10.28" font-weight="normal" stroke-width="0.91">5</text></g>
<line x1="397.9" y1="393.2" x2="440" y2="393.2" stroke-width="1.25"/>
<line x1="400.6" y1="375.4" x2="400.6" y2="398" stroke-width="1.25"/>
<line x1="417.8" y1="388" x2="417.8" y2="400" stroke-width="1.15"/>
<line x1="424.3" y1="383" x2="424.3" y2="400" stroke-width="1.15"/>
<line x1="398.1" y1="395.7" x2="403.1" y2="390.7" stroke-width="1.35"/>
<line x1="415.3" y1="395.7" x2="420.3" y2="390.7" stroke-width="1.35"/>
<line x1="421.8" y1="395.7" x2="426.8" y2="390.7" stroke-width="1.35"/>
<g transform="translate(405,389.50)"><text transform="translate(-0.33,0) scale(0.642,1)" x="0" y="0" font-size="11.39" font-weight="normal" stroke-width="0.96">1</text><text transform="translate(3.55,0) scale(0.642,1)" x="0" y="0" font-size="11.39" font-weight="normal" stroke-width="0.96">3</text><text transform="translate(7.44,0) scale(0.642,1)" x="0" y="0" font-size="11.39" font-weight="normal" stroke-width="0.96">0</text></g>
<g transform="translate(426.6,389.50)"><text transform="translate(-0.42,0) scale(0.889,1)" x="0" y="0" font-size="10.56" font-weight="normal" stroke-width="0.80">5</text><text transform="translate(4.87,0) scale(0.889,1)" x="0" y="0" font-size="10.56" font-weight="normal" stroke-width="0.80">0</text></g>
<line x1="76" y1="415.2" x2="341.3" y2="415.2" stroke-width="1.25"/>
<line x1="77.4" y1="417.7" x2="82.4" y2="412.7" stroke-width="1.35"/>
<line x1="160.0" y1="417.7" x2="165.0" y2="412.7" stroke-width="1.35"/>
<line x1="247.8" y1="417.7" x2="252.8" y2="412.7" stroke-width="1.35"/>
<line x1="336.0" y1="417.7" x2="341.0" y2="412.7" stroke-width="1.35"/>
<g transform="translate(107.9,411.80)"><text transform="translate(-0.39,0) scale(0.643,1)" x="0" y="0" font-size="13.33" font-weight="normal" stroke-width="0.96">1</text><text transform="translate(5.30,0) scale(0.643,1)" x="0" y="0" font-size="13.33" font-weight="normal" stroke-width="0.96">3</text><text transform="translate(10.99,0) scale(0.643,1)" x="0" y="0" font-size="13.33" font-weight="normal" stroke-width="0.96">3</text><text transform="translate(16.68,0) scale(0.643,1)" x="0" y="0" font-size="13.33" font-weight="normal" stroke-width="0.96">0</text></g>
<g transform="translate(200,410.60)"><text transform="translate(-0.39,0) scale(0.674,1)" x="0" y="0" font-size="12.92" font-weight="normal" stroke-width="0.93">1</text><text transform="translate(5.58,0) scale(0.674,1)" x="0" y="0" font-size="12.92" font-weight="normal" stroke-width="0.93">5</text><text transform="translate(11.55,0) scale(0.674,1)" x="0" y="0" font-size="12.92" font-weight="normal" stroke-width="0.93">0</text><text transform="translate(17.52,0) scale(0.674,1)" x="0" y="0" font-size="12.92" font-weight="normal" stroke-width="0.93">0</text></g>
<g transform="translate(289.3,410.40)"><text transform="translate(-0.37,0) scale(0.674,1)" x="0" y="0" font-size="12.36" font-weight="normal" stroke-width="0.93">1</text><text transform="translate(5.69,0) scale(0.674,1)" x="0" y="0" font-size="12.36" font-weight="normal" stroke-width="0.93">5</text><text transform="translate(11.75,0) scale(0.674,1)" x="0" y="0" font-size="12.36" font-weight="normal" stroke-width="0.93">0</text><text transform="translate(17.81,0) scale(0.674,1)" x="0" y="0" font-size="12.36" font-weight="normal" stroke-width="0.93">0</text></g>
</g>
</svg>
</body></html>
